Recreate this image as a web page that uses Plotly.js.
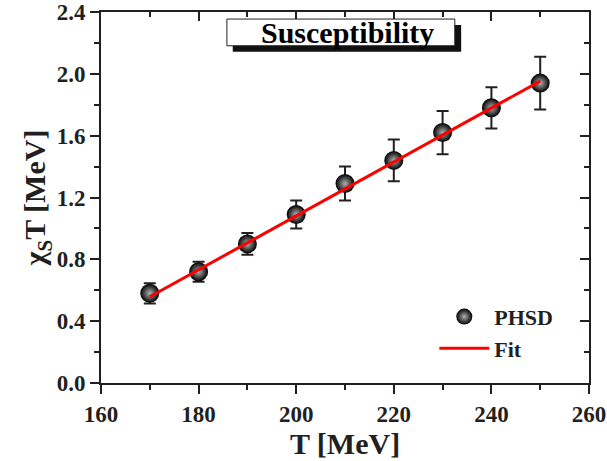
<!DOCTYPE html>
<html>
<head>
<meta charset="utf-8">
<script src="https://cdn.plot.ly/plotly-3.0.1.min.js"></script>
<style>html,body{margin:0;padding:0;background:#fff;}#chart{width:607px;height:461px;}</style>
</head>
<body>
<div id="chart"></div>
<script>
// Data
const temperature = [170, 180, 190, 200, 210, 220, 230, 240, 250];
const chiT = [0.58, 0.72, 0.90, 1.09, 1.29, 1.44, 1.62, 1.78, 1.94];
const chiTErr = [0.065, 0.065, 0.07, 0.09, 0.11, 0.135, 0.14, 0.133, 0.17];
const fitT = [170, 250];
const fitChiT = [0.558, 1.953];
const xTickVals = [160, 180, 200, 220, 240, 260];
const xTickText = ['160', '180', '200', '220', '240', '260'];
const yTickVals = [0.0, 0.4, 0.8, 1.2, 1.6, 2.0, 2.4];
const yTickText = ['0.0', '0.4', '0.8', '1.2', '1.6', '2.0', '2.4'];
const xMinorVals = [170, 190, 210, 230, 250];
const yMinorVals = [0.2, 0.6, 1.0, 1.4, 1.8, 2.2];

const FONT = 'Liberation Serif, Times New Roman, serif';
const INK = '#231f20';

const bold = arr => arr.map(t => '<b>' + t + '</b>');

const traces = [
  {
    x: temperature, y: chiT, type: 'scatter', mode: 'markers', name: '<b>PHSD</b>',
    error_y: {type: 'data', array: chiTErr, visible: true, color: INK, thickness: 2, width: 6},
    marker: {size: 19, color: '#000000', gradient: {type: 'radial', color: '#b0b0b0'},
             line: {width: 0}}
  },
  {
    x: fitT, y: fitChiT, type: 'scatter', mode: 'lines', name: '<b>Fit</b>',
    line: {color: '#ff0000', width: 3}
  },
  {x: temperature, y: chiT, xaxis: 'x2', yaxis: 'y2', type: 'scatter', mode: 'markers',
   showlegend: false, hoverinfo: 'skip', marker: {opacity: 0}},
  {x: temperature, y: chiT, xaxis: 'x3', yaxis: 'y3', type: 'scatter', mode: 'markers',
   showlegend: false, hoverinfo: 'skip', marker: {opacity: 0}},
  {x: temperature, y: chiT, xaxis: 'x4', yaxis: 'y4', type: 'scatter', mode: 'markers',
   showlegend: false, hoverinfo: 'skip', marker: {opacity: 0}}
];

const frameAxis = {
  showgrid: false, zeroline: false, showline: true, linecolor: INK, linewidth: 2,
  tickcolor: INK, tickwidth: 2, ticklen: 9
};

const layout = {
  width: 607, height: 461,
  margin: {l: 101, r: 18, t: 12, b: 78},
  paper_bgcolor: '#ffffff', plot_bgcolor: '#ffffff',
  font: {family: FONT, color: INK, size: 22},
  showlegend: true,
  legend: {
    x: 0.683, y: 0.235, xanchor: 'left', yanchor: 'top',
    bgcolor: 'rgba(0,0,0,0)', borderwidth: 0,
    font: {family: FONT, size: 22, color: INK},
    tracegroupgap: 0, traceorder: 'normal', itemwidth: 50
  },
  xaxis: Object.assign({}, frameAxis, {
    range: [160, 260], tickmode: 'array', tickvals: xTickVals, ticktext: bold(xTickText),
    ticks: 'outside', ticklabeloverflow: 'allow', tickfont: {family: FONT, size: 23, color: INK},
    title: {text: '<b>T [MeV]</b>', font: {family: FONT, size: 30, color: INK}, standoff: 3}
  }),
  yaxis: Object.assign({}, frameAxis, {
    range: [0, 2.4], tickmode: 'array', tickvals: yTickVals, ticktext: bold(yTickText),
    ticks: 'outside', ticklabeloverflow: 'allow', tickfont: {family: FONT, size: 23, color: INK},
    title: {text: '<b>χ<sub>S</sub>T [MeV]</b>', font: {family: FONT, size: 30, color: INK}, standoff: 0}
  }),
  xaxis2: Object.assign({}, frameAxis, {
    overlaying: 'x', side: 'top', range: [160, 260], tickmode: 'array', tickvals: xTickVals,
    ticks: 'inside', showticklabels: false
  }),
  yaxis2: Object.assign({}, frameAxis, {
    overlaying: 'y', side: 'right', range: [0, 2.4], tickmode: 'array', tickvals: yTickVals,
    ticks: 'inside', showticklabels: false
  }),
  // minor ticks via extra overlaying axes (no labels)
  xaxis3: Object.assign({}, frameAxis, {
    overlaying: 'x', side: 'bottom', range: [160, 260], tickmode: 'array', tickvals: xMinorVals,
    ticks: 'outside', ticklen: 5, showticklabels: false
  }),
  xaxis4: Object.assign({}, frameAxis, {
    overlaying: 'x', side: 'top', range: [160, 260], tickmode: 'array', tickvals: xMinorVals,
    ticks: 'inside', ticklen: 5, showticklabels: false
  }),
  yaxis3: Object.assign({}, frameAxis, {
    overlaying: 'y', side: 'left', range: [0, 2.4], tickmode: 'array', tickvals: yMinorVals,
    ticks: 'outside', ticklen: 5, showticklabels: false
  }),
  yaxis4: Object.assign({}, frameAxis, {
    overlaying: 'y', side: 'right', range: [0, 2.4], tickmode: 'array', tickvals: yMinorVals,
    ticks: 'inside', ticklen: 5, showticklabels: false
  }),
  shapes: [
    {type: 'rect', xref: 'paper', yref: 'paper', x0: 0.270, x1: 0.738, y0: 0.893, y1: 0.965,
     fillcolor: '#111111', line: {width: 0}, layer: 'above'},
    {type: 'rect', xref: 'paper', yref: 'paper', x0: 0.258, x1: 0.725, y0: 0.909, y1: 0.981,
     fillcolor: '#ffffff', line: {color: INK, width: 1}, layer: 'above'}
  ],
  annotations: [
    {xref: 'paper', yref: 'paper', x: 0.506, y: 0.945, xanchor: 'center', yanchor: 'middle',
     text: '<b>Susceptibility</b>', showarrow: false,
     font: {family: FONT, size: 30, color: '#000000'}}
  ]
};

Plotly.newPlot('chart', traces, layout, {displayModeBar: false, staticPlot: true});
</script>
</body>
</html>
